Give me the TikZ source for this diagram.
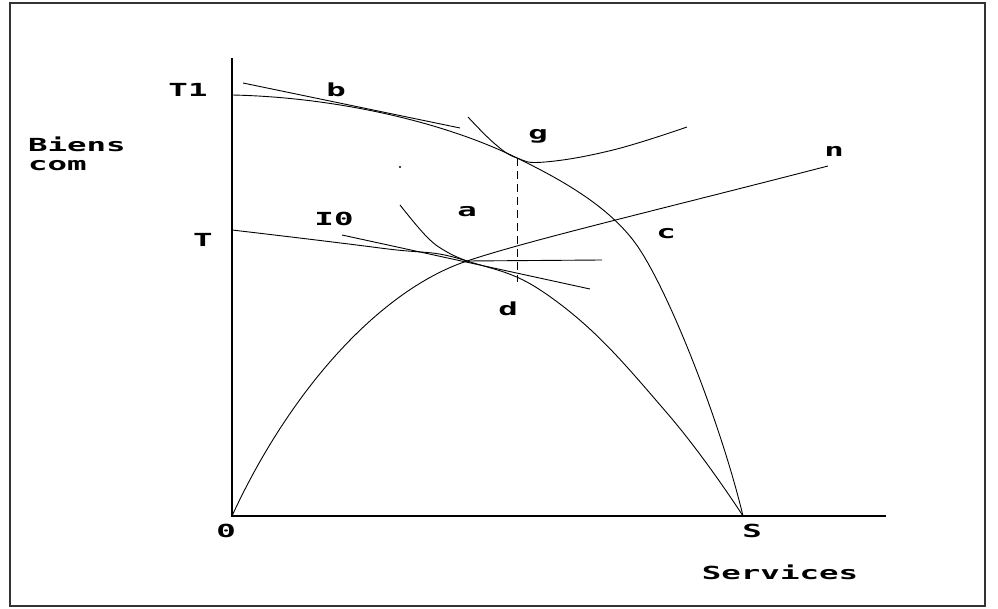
\documentclass[tikz,border=0pt]{standalone}
\usepackage{fontspec}
\newfontfamily\pixfont[FakeStretch=1.8]{DejaVu Sans Mono Bold}
\begin{document}
\begin{tikzpicture}[x=1pt,y=-1pt,
  lbl/.style={font=\pixfont\fontsize{18}{18}\selectfont, inner sep=0pt},
  axis/.style={line width=1.4pt},
  crv/.style={line width=0.9pt},
  frame/.style={line width=2.4pt, black!80}
]
\useasboundingbox (0,0) rectangle (998,609);
\draw[frame] (10,3) rectangle (985,606);
% key points
\coordinate (O) at (232,516);
\coordinate (Ytop) at (232,58);
\coordinate (Xend) at (886,516);
\coordinate (T1) at (232,95);
\coordinate (T) at (232,230);
\coordinate (S) at (743,516);
\coordinate (G) at (517,158);
\coordinate (C) at (633,240);
\coordinate (P) at (467,261);
\coordinate (D) at (517,282);
\coordinate (N) at (828,166);
% axes
\draw[axis] (Ytop) -- (O) -- (Xend);
% outer frontier T1 - g - c - S
\draw[crv] (T1) .. controls (330,97) and (440,120) .. (G)
  .. controls (560,179) and (605,204) .. (C)
  .. controls (665,281) and (720,420) .. (S);
% inner frontier T - d - S
\draw[crv] plot[smooth, tension=0.75] coordinates {(232,230) (380,248) (467,261) (560,304) (667,413) (743,516)};
% hump curve from O through peak to n
\draw[crv] (O) .. controls (290,390) and (380,290) .. (P)
  .. controls (530,240) and (650,212) .. (N);
% horizontal tangent at peak
\draw[crv] (P) -- (602,260);
% price line through peak
\coordinate (I0s) at (342,235);
\coordinate (I0e) at (590,289);
\draw[crv] (I0s) -- (I0e);
% indifference curve I0
\draw[crv] plot[smooth, tension=0.7] coordinates {(400,205) (427,237) (447,252) (467,261)};
% tangent line at b
\coordinate (Bs) at (243,83);
\coordinate (Be) at (460,128);
\draw[crv] (Bs) -- (Be);
% indifference curve at g
\draw[crv] plot[smooth, tension=0.7] coordinates {(468,117) (495,144) (517,158) (545,162) (613,150) (687,127)};
% dashed vertical g - d
\draw[crv, dash pattern=on 8pt off 5pt] (G) -- (D);
% stray dot
\fill (400,167) circle (1.1);
% labels
\node[lbl] (lT1) at (188,90) {T1};
\node[lbl, anchor=west] (lB) at (28,144) {Biens};
\node[lbl, anchor=west] (lC) at (28,166) {com};
\node[lbl] (lT) at (203,240) {T};
\node[lbl] (l0) at (226,531) {0};
\node[lbl] (lS) at (752,531) {S};
\node[lbl] (lSv) at (780,572) {Services};
\node[lbl] (lb) at (336,90) {b};
\node[lbl] (lg) at (538,136) {g};
\node[lbl] (ln) at (834,151) {n};
\node[lbl] (lI0) at (334,219) {I0};
\node[lbl] (la) at (467,212) {a};
\node[lbl] (lc) at (666,234) {c};
\node[lbl] (ld) at (508,309) {d};
\end{tikzpicture}
\end{document}
